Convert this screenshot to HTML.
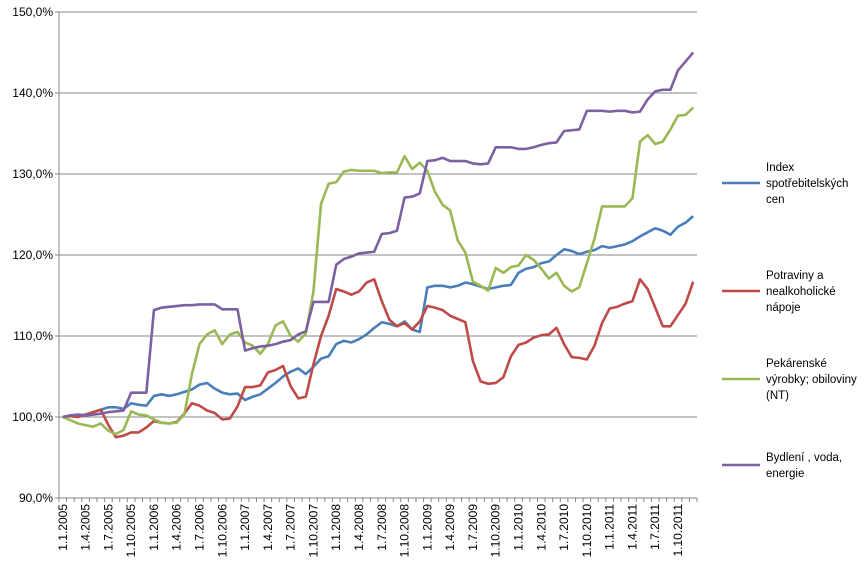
<!DOCTYPE html>
<html><head><meta charset="utf-8"><style>
body{margin:0;background:#fff;font-family:"Liberation Sans",sans-serif}
</style></head><body>
<svg id="chart" width="866" height="569" xmlns="http://www.w3.org/2000/svg" font-family="Liberation Sans, sans-serif"></svg>
<script>
const ticks=[90,100,110,120,130,140,150];
const cpi=[100,100.2,100.2,100.3,100.6,100.9,101.2,101.2,101.0,101.7,101.5,101.4,
102.6,102.8,102.6,102.8,103.1,103.4,104.0,104.2,103.5,103.0,102.8,102.9,
102.1,102.5,102.8,103.5,104.2,105.0,105.6,106.0,105.3,106.2,107.2,107.5,
109.0,109.4,109.2,109.6,110.2,111.0,111.7,111.5,111.2,111.8,110.8,110.5,
116.0,116.2,116.2,116.0,116.2,116.6,116.4,116.1,115.8,116.0,116.2,116.3,
117.8,118.3,118.5,119.0,119.2,120.0,120.7,120.5,120.1,120.4,120.6,121.1,
120.9,121.1,121.3,121.7,122.3,122.8,123.3,123.0,122.5,123.5,124.0,124.8];
const food=[100,100.1,100,100.3,100.6,100.9,99.0,97.5,97.7,98.1,98.1,98.7,
99.5,99.3,99.2,99.4,100.4,101.7,101.4,100.8,100.5,99.7,99.8,101.3,
103.7,103.7,103.9,105.5,105.8,106.3,103.8,102.3,102.5,106.5,110.0,112.5,
115.8,115.5,115.1,115.5,116.6,117.0,114.3,112.0,111.2,111.6,110.8,111.8,
113.7,113.5,113.2,112.5,112.1,111.7,106.9,104.4,104.1,104.2,104.9,107.5,
108.9,109.2,109.8,110.1,110.2,111.0,109.0,107.4,107.3,107.1,108.8,111.6,
113.4,113.6,114.0,114.3,117.0,115.8,113.5,111.2,111.2,112.6,114.0,116.7];
const bakery=[100,99.6,99.2,99.0,98.8,99.2,98.3,97.9,98.4,100.7,100.3,100.2,
99.7,99.3,99.2,99.3,100.3,105.3,109.0,110.2,110.7,109.0,110.2,110.5,
109.2,108.8,107.8,109.0,111.3,111.8,110.0,109.3,110.3,115.5,126.3,128.8,
129.0,130.3,130.5,130.4,130.4,130.4,130.1,130.2,130.2,132.2,130.6,131.4,
130.4,127.8,126.2,125.5,121.8,120.3,116.7,116.2,115.6,118.4,117.8,118.5,
118.7,120.0,119.4,118.3,117.1,117.8,116.2,115.5,116.0,119.0,122.0,126.0,
126.0,126.0,126.0,127.0,134.0,134.8,133.7,134.0,135.5,137.2,137.3,138.2];
const housing=[100,100.2,100.3,100.2,100.3,100.4,100.6,100.7,100.8,103.0,103.0,103.0,
113.2,113.5,113.6,113.7,113.8,113.8,113.9,113.9,113.9,113.3,113.3,113.3,
108.2,108.5,108.7,108.8,109.0,109.3,109.5,110.2,110.6,114.2,114.2,114.2,
118.8,119.5,119.8,120.2,120.3,120.4,122.6,122.7,123.0,127.1,127.2,127.6,
131.6,131.7,132.0,131.6,131.6,131.6,131.3,131.2,131.3,133.3,133.3,133.3,
133.1,133.1,133.3,133.6,133.8,133.9,135.3,135.4,135.5,137.8,137.8,137.8,
137.7,137.8,137.8,137.6,137.7,139.2,140.2,140.4,140.4,142.8,143.9,145.0];
const years=[2005,2006,2007,2008,2009,2010,2011];
const months=[1,4,7,10];
const seriesNames=[["Index","spotřebitelských","cen"],["Potraviny a","nealkoholické","nápoje"],["Pekárenské","výrobky; obiloviny","(NT)"],["Bydlení , voda,","energie"]];
const colors=["#4a7ebb","#be4b48","#98b954","#7d60a0"];
const svg=document.getElementById('chart');
const NS="http://www.w3.org/2000/svg";
const X0=59,X1=697,Y0=498,N=84,CW=(X1-X0)/N;
const xs=i=>X0+CW*(i+0.5);
const ys=v=>Y0-(v-90)*8.1;
function mk(t,a){const e=document.createElementNS(NS,t);for(const k in a)e.setAttribute(k,a[k]);svg.appendChild(e);return e;}
ticks.forEach(t=>{
 if(t>90){const g=mk('line',{x1:X0,x2:X1,y1:ys(t),y2:ys(t),stroke:'#868686','stroke-width':1});
 
 }
 const tk=mk('line',{x1:X0-4,x2:X0,y1:ys(t),y2:ys(t),stroke:'#868686'});
 
 
 const l=mk('text',{x:53,y:ys(t)+4,'text-anchor':'end','font-size':12,fill:'#000'});
 l.textContent=t.toFixed(1).replace('.',',')+'%';
 
 
});
const ya=mk('line',{x1:X0,x2:X0,y1:ys(150),y2:Y0,stroke:'#868686'});


const xa=mk('line',{x1:X0,x2:X1,y1:Y0,y2:Y0,stroke:'#868686'});


for(let i=0;i<=N;i++){const t=mk('line',{x1:X0+CW*i,x2:X0+CW*i,y1:Y0,y2:Y0+4,stroke:'#868686'});
 
 }
years.forEach((y,yi)=>months.forEach((m,mi)=>{
 const i=yi*12+mi*3;const x=xs(i)+4;
 const l=mk('text',{x:0,y:0,transform:`translate(${x},504) rotate(-90)`,'text-anchor':'end','font-size':12,fill:'#000'});
 l.textContent=`1.${m}.${y}`;
 
 
}));
[cpi,food,bakery,housing].forEach((s,si)=>{
 const p=mk('polyline',{points:s.map((v,i)=>xs(i)+','+ys(v)).join(' '),fill:'none',stroke:colors[si],'stroke-width':2.6,'stroke-linejoin':'round'});
 
 
});
const legY=[183,291,379,465];
seriesNames.forEach((lines,si)=>{
 const y=legY[si];
 const ln=mk('line',{x1:722,x2:760,y1:y,y2:y,stroke:colors[si],'stroke-width':2.6});
 
 
 const start=y-((lines.length-1)*16)/2+4;
 lines.forEach((t,k)=>{
  const tx=mk('text',{x:766,y:start+k*16,'font-size':11.5,fill:'#000'});
  tx.textContent=t;
  
  
 });
});
</script>
</body></html>
